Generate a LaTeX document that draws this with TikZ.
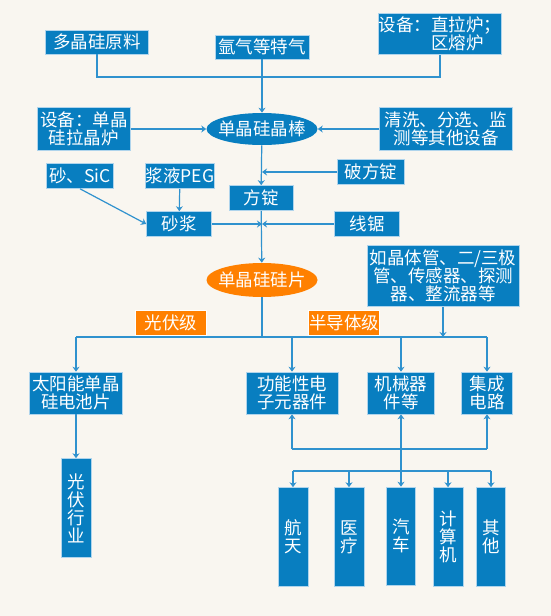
\documentclass[tikz,border=0pt]{standalone}
\usepackage{fontspec}
\newfontfamily\cjkfont{Noto Sans CJK SC}
\usetikzlibrary{shapes.geometric,arrows.meta}
\definecolor{bgcream}{RGB}{249,246,240}
\definecolor{boxblue}{RGB}{8,126,192}
\definecolor{boxedge}{RGB}{175,212,236}
\definecolor{linkblue}{RGB}{48,146,206}
\definecolor{lvorange}{RGB}{255,128,0}

\begin{document}
\begin{tikzpicture}[x=1pt, y=-1pt, >={Stealth[length=5pt,width=7pt]},
  wh/.style 2 args={minimum width=#1, minimum height=#2},
  box/.style={rectangle, fill=boxblue, draw=boxedge, line width=0.6pt, text=white,
    inner sep=0pt, align=center, font=\cjkfont\fontsize{17.5}{18}\selectfont},
  tagbox/.style={box, fill=lvorange, draw=white},
  oval/.style={box, ellipse, inner xsep=-6pt, inner ysep=0pt, draw=none},
  link/.style={draw=linkblue, line width=1.2pt}]
  \fill[bgcream] (0,0) rectangle (551,616);
  \useasboundingbox (0,0) rectangle (551,616);

  \node[box, wh={103}{24}] (yuan) at (97,42) {多晶硅原料};
  \node[box, wh={94}{24}] (argon) at (262,47) {氩气等特气};
  \node[box, wh={120}{41}] (zhila) at (440,34) {设备：直拉炉；\\\hphantom{设备：}区熔炉\hphantom{；}};
  \node[box, wh={93}{43}] (lajing) at (84,129) {设备：单晶\\硅拉晶炉};
  \node[box, wh={133}{43}] (qingxi) at (446,129) {清洗、分选、监\\测等其他设备};
  \node[oval, fill=boxblue, wh={111}{32}] (bang) at (262,129) {单晶硅晶棒};
  \node[box, wh={67}{25}] (pofd) at (371,172) {破方锭};
  \node[box, wh={64}{25}] (fangding) at (261,198) {方锭};
  \node[box, wh={67}{25}] (sic) at (80,176) {砂、SiC};
  \node[box, wh={67}{25}] (peg) at (180,176) {浆液PEG};
  \node[box, wh={65}{25}] (shajiang) at (179,224) {砂浆};
  \node[box, wh={65}{25}] (xianju) at (367,224) {线锯};
  \node[oval, fill=lvorange, wh={111}{34}] (pian) at (262,280) {单晶硅硅片};
  \node[box, wh={152}{61}] (jtg) at (443,276) {如晶体管、二/三极\\管、传感器、探测\\器、整流器等};

  \node[box, wh={93}{42}] (dianchi) at (76,393) {太阳能单晶\\硅电池片};
  \node[box, wh={92}{42}] (gongneng) at (292,393) {功能性电\\子元器件};
  \node[box, wh={67}{42}] (jixie) at (401,393) {机械器\\件等};
  \node[box, wh={51}{42}] (jicheng) at (487,393) {集成\\电路};
  \node[box, wh={30}{99}] (guangfu) at (76,508) {光\\伏\\行\\业};
  \node[box, wh={30}{99}] (hangtian) at (293,537) {航\\天};
  \node[box, wh={30}{99}] (yiliao) at (349,537) {医\\疗};
  \node[box, wh={29}{98}] (qiche) at (401,536) {汽\\车};
  \node[box, wh={30}{99}] (jisuan) at (448,537) {计\\算\\机};
  \node[box, wh={29}{99}] (qita) at (491,537) {其\\他};

  \coordinate (feed) at (262,77);
  \coordinate (cut) at (262,172);
  \coordinate (saw) at (262,224);
  \coordinate (fork) at (262,337);
  \coordinate (up) at (401,449);
  \coordinate (down) at (401,471);

  \draw[link] (yuan.south) |- (feed) -| (zhila.south);
  \draw[link, ->] (argon) -- (bang);
  \draw[link, ->] (lajing) -- (bang);
  \draw[link, ->] (qingxi) -- (bang);
  \draw[link, ->] (bang) -- (fangding);
  \draw[link, ->] (pofd) -- (cut);
  \draw[link, ->] (sic.south) -- (shajiang.west);
  \draw[link, ->] (peg) -- (shajiang);
  \draw[link, ->] (shajiang) -- (saw);
  \draw[link, ->] (xianju) -- (saw);
  \draw[link, ->] (fangding) -- (pian);
  \draw[link] (pian) -- (fork);
  \draw[link] (fork -| dianchi) -- (fork -| jicheng);
  \draw[link, ->] (jtg.south) -- (jtg.south |- fork);
  \foreach \n in {dianchi, gongneng, jixie, jicheng}
    \draw[link, ->] (fork -| \n) -- (\n);
  \draw[link, ->] (dianchi) -- (guangfu);

  \draw[link] (up -| gongneng) -- (up -| jicheng);
  \draw[link, ->] (up -| gongneng) -- (gongneng);
  \draw[link, ->] (up -| jicheng) -- (jicheng);
  \draw[link, ->] (down) -- (jixie);
  \draw[link] (down -| hangtian) -- (down -| qita);
  \foreach \n in {hangtian, yiliao, qiche, jisuan, qita}
    \draw[link, ->] (down -| \n) -- (\n);

  \node[tagbox, wh={71}{25}] (pv) at (171,323) {光伏级};
  \node[tagbox, wh={71}{25}] (semi) at (344,323) {半导体级};
\end{tikzpicture}
\end{document}
